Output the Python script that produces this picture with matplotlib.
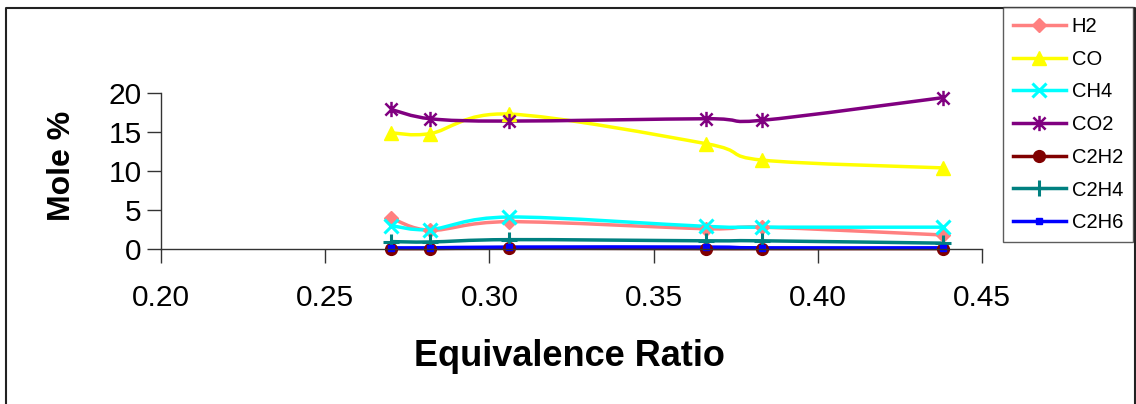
import numpy as np
import matplotlib
matplotlib.use("Agg")
import matplotlib.pyplot as plt
from matplotlib.path import Path
from matplotlib.patches import PathPatch
from matplotlib.lines import Line2D

plt.rcParams['font.family'] = ['Liberation Sans', 'DejaVu Sans']

# equivalence ratio
phi = [0.270, 0.282, 0.306, 0.366, 0.383, 0.438]

# mole % of each species
h2   = [4.0, 2.4, 3.5, 2.6, 2.8, 1.8]
co   = [14.9, 14.8, 17.3, 13.5, 11.4, 10.4]
ch4  = [3.0, 2.5, 4.1, 2.9, 2.8, 2.8]
co2  = [17.9, 16.7, 16.4, 16.7, 16.5, 19.4]
c2h2 = [0.05, 0.05, 0.1, 0.05, 0.05, 0.05]
c2h4 = [0.95, 0.9, 1.2, 1.05, 1.05, 0.75]
c2h6 = [0.15, 0.15, 0.25, 0.25, 0.15, 0.15]

labels = ['H2', 'CO', 'CH4', 'CO2', 'C2H2', 'C2H4', 'C2H6']
series = [h2, co, ch4, co2, c2h2, c2h4, c2h6]
colors = ['#FF8080', '#FFFF00', '#00FFFF', '#800080', '#800000', '#008080', '#0000FF']

# excel star marker: an x with a vertical bar through it
star = Path([(-1, -1), (1, 1), (-1, 1), (1, -1), (0, -1.25), (0, 1.25)],
            [Path.MOVETO, Path.LINETO] * 3)
markers = ['D', '^', 'x', star, 'o', '+', 's']
msizes = [7, 10, 10.5, 11, 8.5, 11, 5]
mews = [1, 1, 2.2, 1.8, 1, 2.2, 1]


def smooth_path(x, y):
    # excel-style smoothed line: cubic bezier through the points
    p = np.column_stack([x, y])
    n = len(p)
    verts = [p[0]]
    codes = [Path.MOVETO]
    for i in range(n - 1):
        p0 = p[i - 1] if i > 0 else p[i]
        p3 = p[i + 2] if i + 2 < n else p[i + 1]
        c1 = p[i] + (p[i + 1] - p0) / 6
        c2 = p[i + 1] - (p3 - p[i]) / 6
        verts += [c1, c2, p[i + 1]]
        codes += [Path.CURVE4] * 3
    return Path(verts, codes)


fig = plt.figure(figsize=(11.36, 4.04), dpi=100)
W, H = 1136, 404
ax = fig.add_axes([161 / W, 1 - 249 / H, (982 - 161) / W, (249 - 93) / H])

handles = []
for y, lab, c, m, ms, mw in zip(series, labels, colors, markers, msizes, mews):
    ax.add_patch(PathPatch(smooth_path(phi, y), fill=False, edgecolor=c,
                           lw=2.5, clip_on=False))
    ax.plot(phi, y, ls='none', marker=m, ms=ms, color=c, mec=c, mew=mw,
            clip_on=False)
    handles.append(Line2D([], [], color=c, lw=2.5, marker=m, ms=ms, mew=mw,
                          label=lab))

ax.set_xlim(0.20, 0.45)
ax.set_ylim(0, 20)
ax.set_xticks(np.arange(0.20, 0.451, 0.05))
ax.set_xticklabels(['%.2f' % v for v in np.arange(0.20, 0.451, 0.05)])
ax.set_yticks([0, 5, 10, 15, 20])
for s in ['top', 'right']:
    ax.spines[s].set_visible(False)
for s in ['left', 'bottom']:
    ax.spines[s].set_linewidth(1)
    ax.spines[s].set_color('#333333')
ax.tick_params(direction='out', length=10, width=1, color='#333333',
               labelsize=21.5, pad=15)
ax.tick_params(axis='y', pad=4)

fig.text(569 / W, 1 - 357 / H, 'Equivalence Ratio', fontsize=26,
         fontweight='bold', ha='center', va='center')
fig.text(62 / W, 1 - 166 / H, 'Mole %', fontsize=23, fontweight='bold',
         ha='center', va='center', rotation=90)

leg = fig.legend(handles=handles, loc='upper right',
                 bbox_to_anchor=(1133 / W, 1 - 7 / H), borderaxespad=0,
                 fontsize=14.5, handlelength=2.6, handletextpad=0.3,
                 labelspacing=0.68, borderpad=0.5, frameon=True, fancybox=False)
leg.get_frame().set_edgecolor('#333333')
leg.get_frame().set_linewidth(1)

# outer chart border (bottom edge cut off)
bx = [5.5 / W, 5.5 / W, 1134.5 / W, 1134.5 / W]
by = [0, 1 - 7.5 / H, 1 - 7.5 / H, 0]
fig.add_artist(Line2D(bx, by, color='#222222', lw=1.5, transform=fig.transFigure))

fig.savefig('out.png', dpi=100)
